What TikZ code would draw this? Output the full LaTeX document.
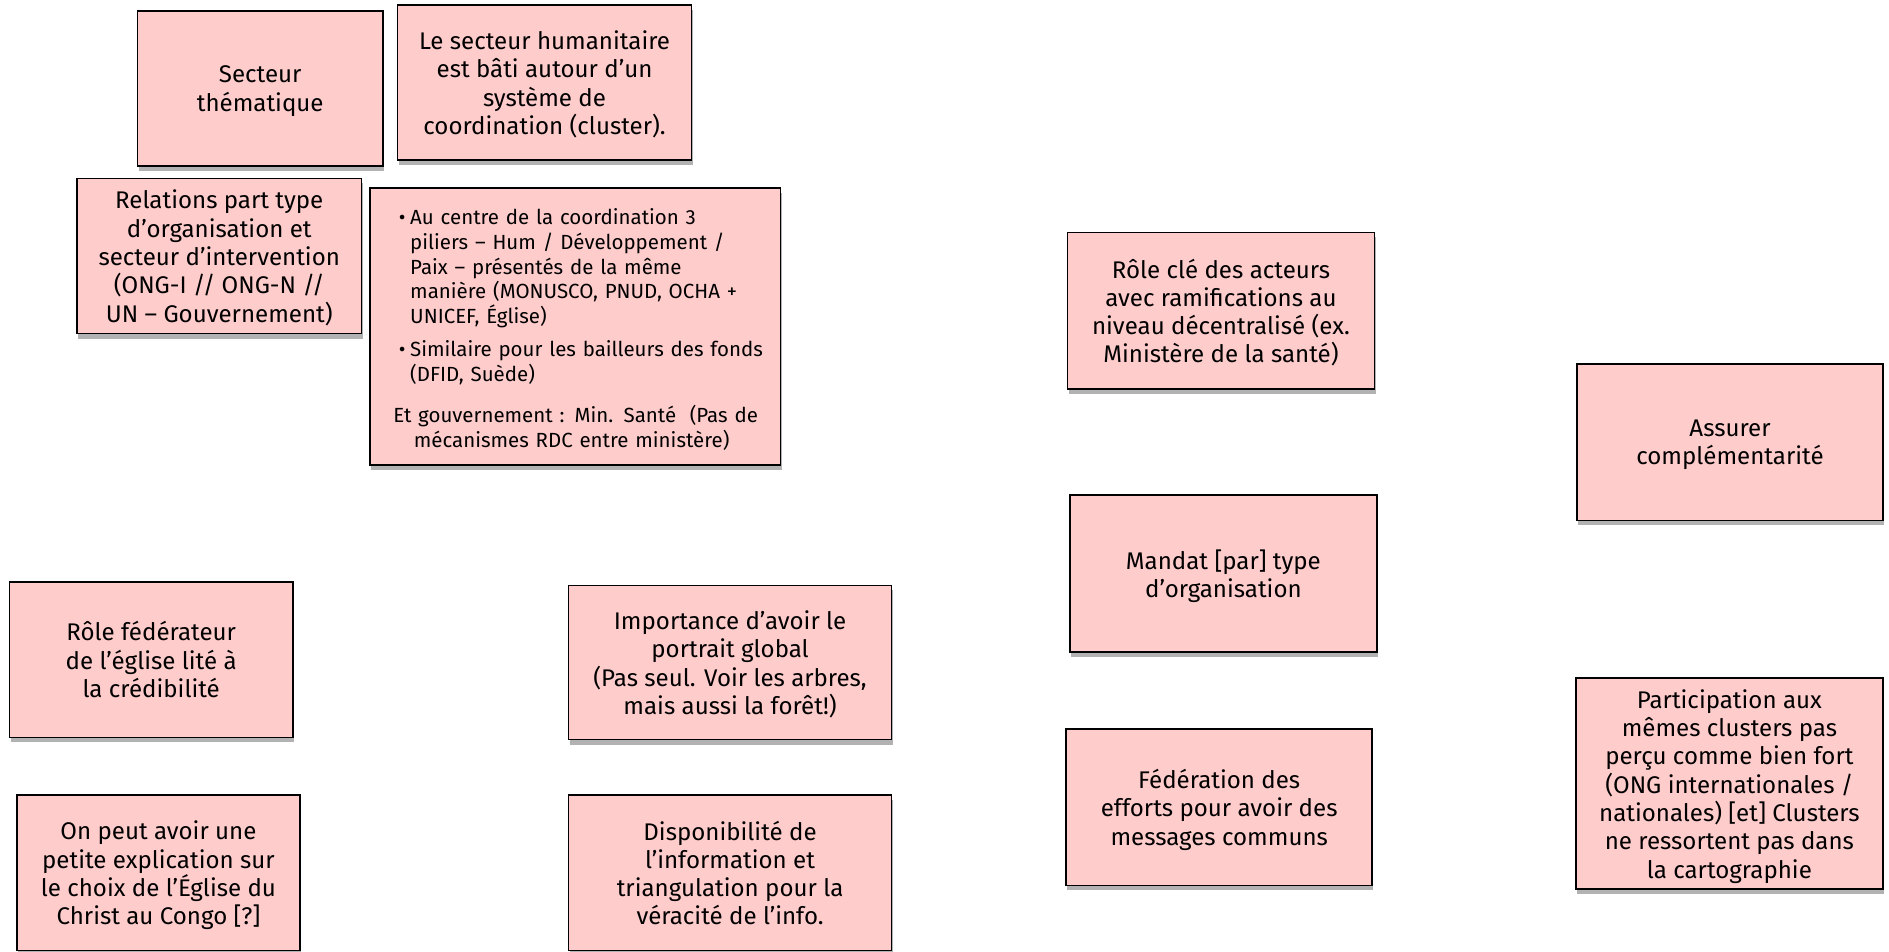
\documentclass[tikz,border=0pt]{standalone}
\usepackage{fontspec}
\setmainfont{Fira Sans}
\usetikzlibrary{shadows}
\definecolor{notepink}{RGB}{255,204,204}
% bullet-list helpers for the coordination box
\newcommand\bul{\hspace*{18.5pt}\makebox[9.5pt][l]{\textbullet}}
\newcommand\ind{\hspace*{28pt}}
\tikzset{
  note/.style={draw=black, line width=1.3pt, fill=notepink, rectangle,
    inner sep=0pt, align=center, text=black,
    font=\fontsize{20}{23.5}\selectfont,
    drop shadow={shadow xshift=1pt, shadow yshift=-4pt, opacity=0.3, fill=black}},
  centred/.style={note, text depth=-6pt},
  smalltext/.style={font=\fontsize{17}{20.5}\selectfont},
}
\begin{document}
\begin{tikzpicture}[x=1pt, y=-1pt]
\useasboundingbox (0,0) rectangle (1568,790);
\fill[white] (0,0) rectangle (1568,790);

\node[centred, minimum width=204, minimum height=129] (sect) at (216,73.5)
  {Secteur\\thématique};
\node[centred, minimum width=244, minimum height=129] (huma) at (452,68.5)
  {Le secteur humanitaire\\est bâti autour d’un\\système de\\coordination (cluster).};
\node[centred, minimum width=236, minimum height=129] (rela) at (182,212.5)
  {Relations part type\\d’organisation et\\secteur d’intervention\\(ONG-I // ONG-N //\\UN – Gouvernement)};
\node[note, smalltext, minimum width=341, minimum height=230, text width=330, align=left] (coord) at (477.5,271)
  {\rule{0pt}{18.5pt}\bul Au centre de la coordination 3\\
   \ind piliers – Hum / Développement /\\
   \ind Paix – présentés de la même\\
   \ind manière (MONUSCO, PNUD, OCHA +\\
   \ind UNICEF, Église)\\[7pt]
   \bul Similaire pour les bailleurs des fonds\\
   \ind (DFID, Suède)\\[14pt]
   \hspace*{14pt}Et gouvernement : Min. Santé~~(Pas de\\
   \hspace*{31pt}mécanismes RDC entre ministère)};
\node[centred, minimum width=255, minimum height=130] (role) at (1013.5,258)
  {Rôle clé des acteurs\\avec ramifications au\\niveau décentralisé (ex.\\Ministère de la santé)};
\node[centred, minimum width=254, minimum height=130] (comp) at (1436,367)
  {Assurer\\complémentarité};
\node[centred, minimum width=255, minimum height=130] (mand) at (1015.5,476)
  {Mandat [par] type\\d’organisation};
\node[centred, minimum width=235, minimum height=129] (egli) at (125.5,547.5)
  {Rôle fédérateur\\de l’église lité à\\la crédibilité};
\node[centred, minimum width=268, minimum height=128] (port) at (606,550)
  {Importance d’avoir le\\portrait global\\(Pas seul. Voir les arbres,\\mais aussi la forêt!)};
\node[centred, minimum width=254, minimum height=130] (fede) at (1012,670)
  {Fédération des\\efforts pour avoir des\\messages communs};
\node[centred, minimum width=255, minimum height=175] (part) at (1435.5,650.5)
  {Participation aux\\mêmes clusters pas\\perçu comme bien fort\\(ONG internationales /\\nationales) [et] Clusters\\ne ressortent pas dans\\la cartographie};
\node[centred, minimum width=235, minimum height=129] (expl) at (131.5,724.5)
  {On peut avoir une\\petite explication sur\\le choix de l’Église du\\Christ au Congo [?]};
\node[centred, minimum width=268, minimum height=129] (disp) at (606,724.5)
  {Disponibilité de\\l’information et\\triangulation pour la\\véracité de l’info.};
\end{tikzpicture}
\end{document}
